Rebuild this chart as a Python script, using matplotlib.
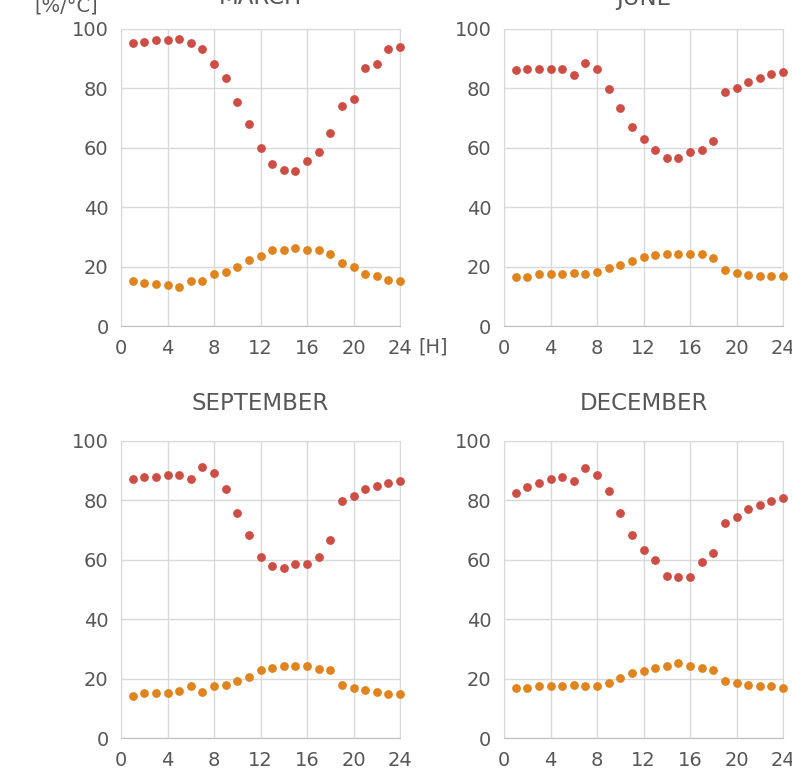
import matplotlib.pyplot as plt

plt.rcParams['font.family'] = ['DejaVu Sans']

hours = list(range(1, 25))

march_rh = [95.3, 95.6, 96.4, 96.4, 96.7, 95.3, 93.3, 88.3, 83.5, 75.3, 68.1, 59.9,
            54.5, 52.6, 52.2, 55.7, 58.6, 65.1, 74.0, 76.5, 87.0, 88.3, 93.4, 93.8]
march_t = [15.3, 14.5, 14.1, 13.9, 13.1, 15.3, 15.3, 17.4, 18.1, 19.9, 22.3, 23.7,
           25.5, 25.7, 26.3, 25.7, 25.6, 24.4, 21.2, 19.9, 17.4, 16.7, 15.4, 15.3]

june_rh = [86.1, 86.7, 86.7, 86.7, 86.7, 84.6, 88.7, 86.7, 79.7, 73.3, 67.1, 63.0,
           59.1, 56.5, 56.7, 58.6, 59.1, 62.4, 78.7, 80.2, 82.3, 83.5, 84.8, 85.4]
june_t = [16.6, 16.6, 17.5, 17.5, 17.5, 18.0, 17.5, 18.1, 19.5, 20.4, 21.8, 23.2,
          23.8, 24.4, 24.2, 24.4, 24.4, 22.9, 18.9, 17.8, 17.3, 16.7, 16.7, 16.7]

sept_rh = [87.2, 87.9, 87.9, 88.4, 88.4, 87.2, 91.2, 89.2, 84.0, 75.9, 68.3, 61.0,
           58.0, 57.3, 58.6, 58.6, 61.0, 66.5, 79.8, 81.6, 83.8, 84.7, 86.0, 86.7]
sept_t = [14.2, 15.3, 15.3, 15.3, 15.9, 17.5, 15.6, 17.5, 18.0, 19.3, 20.4, 23.0,
          23.7, 24.3, 24.2, 24.3, 23.2, 23.0, 18.0, 16.7, 16.0, 15.5, 14.8, 14.8]

dec_rh = [82.6, 84.5, 86.0, 87.2, 87.9, 86.5, 90.8, 88.6, 83.1, 75.8, 68.3, 63.3,
          59.9, 54.6, 54.1, 54.1, 59.1, 62.4, 72.5, 74.5, 77.2, 78.4, 79.8, 80.7]
dec_t = [16.7, 16.7, 17.5, 17.5, 17.5, 18.0, 17.5, 17.5, 18.4, 20.2, 21.8, 22.4,
         23.7, 24.4, 25.1, 24.3, 23.7, 23.0, 19.3, 18.6, 18.0, 17.5, 17.5, 16.8]

months = ['MARCH', 'JUNE', 'SEPTEMBER', 'DECEMBER']
rh_data = [march_rh, june_rh, sept_rh, dec_rh]
t_data = [march_t, june_t, sept_t, dec_t]

RED = '#cd4e45'
ORANGE = '#e0841f'
TEXT = '#575757'
GRID = '#d9d9d9'

W, H = 792, 777
fig = plt.figure(figsize=(W / 100, H / 100), dpi=100)

# axes boxes in pixels: left, top, right, bottom
boxes = [(121, 29, 400, 326), (504, 29, 783, 326),
         (121, 441, 400, 738), (504, 441, 783, 738)]
# distance from axes top to title centre, pixels
title_gap = [31, 31, 38, 38]

for i, (l, t, r, b) in enumerate(boxes):
    ax = fig.add_axes([l / W, 1 - b / H, (r - l) / W, (b - t) / H])
    ax.scatter(hours, rh_data[i], s=40, color=RED, zorder=3, clip_on=False, linewidths=0)
    ax.scatter(hours, t_data[i], s=40, color=ORANGE, zorder=3, clip_on=False, linewidths=0)
    ax.set_xlim(0, 24)
    ax.set_ylim(0, 100)
    ax.set_xticks(range(0, 25, 4))
    ax.set_yticks(range(0, 101, 20))
    ax.grid(True, color=GRID, linewidth=1)
    ax.set_axisbelow(True)
    for s in ax.spines.values():
        s.set_color(GRID)
    ax.spines['bottom'].set_color('#bfbfbf')
    ax.tick_params(length=0, labelsize=14, colors=TEXT, pad=9)
    ax.text(0.5, 1 + title_gap[i] / (b - t), months[i], transform=ax.transAxes,
            ha='center', va='center', fontsize=16.5, color=TEXT)
    if i == 0:
        ax.text(1.12, -21 / (b - t), '[H]', transform=ax.transAxes,
                ha='center', va='center', fontsize=14, color=TEXT)

fig.text(66 / W, 1 - 6 / H, '[%/°C]', ha='center', va='center', fontsize=14, color=TEXT)

plt.savefig('out.png', dpi=100)
